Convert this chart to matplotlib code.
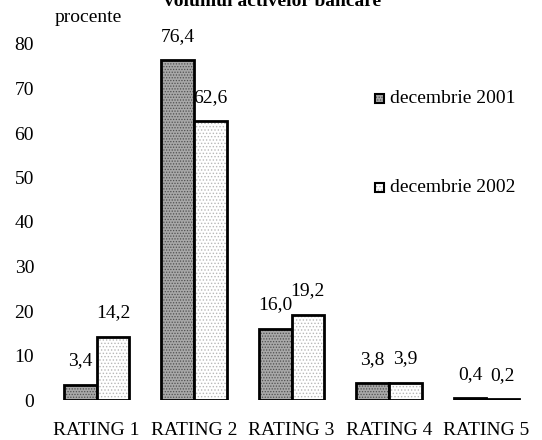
import matplotlib.pyplot as plt
import matplotlib.patches as mpatches
import numpy as np

plt.rcParams['font.family'] = ['Liberation Serif', 'DejaVu Serif']
plt.rcParams['hatch.linewidth'] = 0.6

categories = ['RATING 1', 'RATING 2', 'RATING 3', 'RATING 4', 'RATING 5']
dec_2001 = [3.4, 76.4, 16.0, 3.8, 0.4]
dec_2002 = [14.2, 62.6, 19.2, 3.9, 0.2]
series_labels = ['decembrie 2001', 'decembrie 2002']
yticks = [0, 10, 20, 30, 40, 50, 60, 70, 80]

fig = plt.figure(figsize=(5.42, 4.40), dpi=100)
ax = fig.add_axes([48 / 542, 40 / 440, 487 / 542, 356 / 440])

x = np.arange(len(categories))
w = 0.335
fs = 14

styles = [
    dict(face='#a8a8a8', hatch='......', hcolor='#505050'),
    dict(face='white', hatch='.....', hcolor='#b8b8b8'),
]

for vals, offs, st in [(dec_2001, -w / 2, styles[0]), (dec_2002, w / 2, styles[1])]:
    # hatched fill first, then a solid black outline on top
    ax.bar(x + offs, vals, w, color=st['face'], hatch=st['hatch'],
           edgecolor=st['hcolor'], linewidth=0)
    ax.bar(x + offs, vals, w, fill=False, edgecolor='black', linewidth=2)
    for xi, v in zip(x + offs, vals):
        ax.annotate(f'{v:.1f}'.replace('.', ','), (xi, v), xytext=(0, 11),
                    textcoords='offset points', ha='center', va='bottom',
                    fontsize=fs)

ax.set_xlim(-0.5, 4.5)
ax.set_ylim(0, 80)
ax.set_yticks(yticks)
ax.set_xticks(x)
ax.set_xticklabels(categories)
ax.tick_params(axis='both', length=0, labelsize=fs)
ax.tick_params(axis='y', pad=10)
ax.tick_params(axis='x', pad=16)
for s in ax.spines.values():
    s.set_visible(False)

# legend entries placed by hand, far apart vertically
legend_y = [0.848, 0.596]
for ly, lab, st in zip(legend_y, series_labels, styles):
    box = (0.671, ly - 0.0125)
    ax.add_patch(mpatches.Rectangle(box, 0.0185, 0.025,
                                    transform=ax.transAxes, facecolor=st['face'],
                                    hatch=st['hatch'], edgecolor=st['hcolor'],
                                    linewidth=0, clip_on=False))
    ax.add_patch(mpatches.Rectangle(box, 0.0185, 0.025,
                                    transform=ax.transAxes, fill=False,
                                    edgecolor='black', linewidth=1.5, clip_on=False))
    ax.text(0.702, ly, lab, transform=ax.transAxes, ha='left', va='center',
            fontsize=fs)

fig.text(55 / 542, 1 - 18 / 440, 'procente', ha='left', va='center', fontsize=fs)
fig.text(273 / 542, 1 - 2 / 440, 'volumul activelor bancare', ha='center',
         va='center', fontsize=fs, fontweight='bold')

fig.savefig('out.png', dpi=100)
